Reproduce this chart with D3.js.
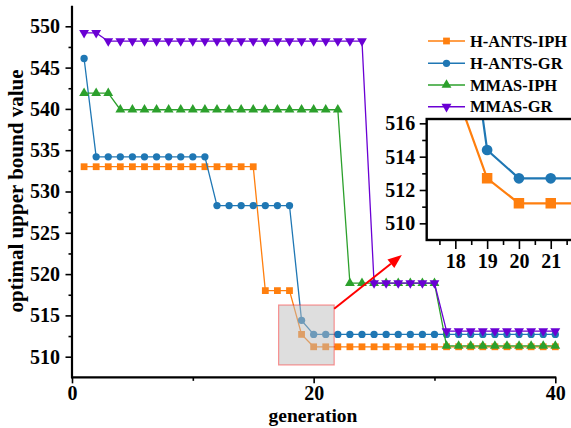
<!DOCTYPE html>
<html><head><meta charset="utf-8">
<script src="https://cdn.jsdelivr.net/npm/d3@7"></script>
<style>
body{margin:0;background:#fff}
svg{display:block}
text{font-family:"Liberation Serif","Times New Roman",serif;font-weight:bold;fill:#000}
</style>
</head><body><svg id="c" width="571" height="428"></svg>
<script>
// ---- data ----
const generations = [1,2,3,4,5,6,7,8,9,10,11,12,13,14,15,16,17,18,19,20,21,22,23,24,25,26,27,28,29,30,31,32,33,34,35,36,37,38,39,40];
const hAntsIph = [533,533,533,533,533,533,533,533,533,533,533,533,533,533,533,518,518,518,512.7,511.2,511.2,511.2,511.2,511.2,511.2,511.2,511.2,511.2,511.2,511.2,511.2,511.2,511.2,511.2,511.2,511.2,511.2,511.2,511.2,511.2];
const hAntsGr  = [546.1,534.2,534.2,534.2,534.2,534.2,534.2,534.2,534.2,534.2,534.2,528.3,528.3,528.3,528.3,528.3,528.3,528.3,514.4,512.7,512.7,512.7,512.7,512.7,512.7,512.7,512.7,512.7,512.7,512.7,512.7,512.7,512.7,512.7,512.7,512.7,512.7,512.7,512.7,512.7];
const mmasIph  = [541.9,541.9,541.9,539.9,539.9,539.9,539.9,539.9,539.9,539.9,539.9,539.9,539.9,539.9,539.9,539.9,539.9,539.9,539.9,539.9,539.9,539.9,518.9,518.9,518.9,518.9,518.9,518.9,518.9,518.9,511.3,511.3,511.3,511.3,511.3,511.3,511.3,511.3,511.3,511.3];
const mmasGr   = [549.2,549.2,548.2,548.2,548.2,548.2,548.2,548.2,548.2,548.2,548.2,548.2,548.2,548.2,548.2,548.2,548.2,548.2,548.2,548.2,548.2,548.2,548.2,548.2,518.9,518.9,518.9,518.9,518.9,518.9,513.1,513.1,513.1,513.1,513.1,513.1,513.1,513.1,513.1,513.1];
const seriesNames = ["H-ANTS-IPH","H-ANTS-GR","MMAS-IPH","MMAS-GR"];
const xTicks = [0,20,40];
const xMinorTicks = [10,30];
const yTicks = [510,515,520,525,530,535,540,545,550];
const yMinorTicks = [512.5,517.5,522.5,527.5,532.5,537.5,542.5,547.5];
const zoomX = [17.1,21.7];
const zoomY = [509,516.26];
const arrowFrom = [21.7,515.8];
const arrowTo = [27.3,522.3];
const insetXTicks = [18,19,20,21];
const insetXMinor = [17.5,18.5,19.5,20.5,21.5];
const insetYTicks = [510,512,514,516];
const insetYMinor = [511,513,515];

// ---- styles ----
const colors = ["#ff7f0e","#1f77b4","#2ca02c","#6a00d4"];
const symbols = [d3.symbolSquare,d3.symbolCircle,d3.symbolTriangle,d3.symbolTriangle];
const rotations = [0,0,0,180];
const seriesValues = [hAntsIph,hAntsGr,mmasIph,mmasGr];
const series = seriesNames.map((n,i)=>({name:n,color:colors[i],symbol:symbols[i],rot:rotations[i],
  values:generations.map((g,j)=>({x:g,y:seriesValues[i][j]}))}));

const svg = d3.select("#c");
const x = d3.scaleLinear().domain([0,40]).range([72,555.3]);
const y = d3.scaleLinear().domain([507.5,552.5]).range([377.35,5.65]);

function drawSeries(g, xs, ys, lw, sizes){
  series.forEach((s,i)=>{
    g.append("path").datum(s.values)
      .attr("fill","none").attr("stroke",s.color).attr("stroke-width",lw)
      .attr("d",d3.line().x(d=>xs(d.x)).y(d=>ys(d.y)));
    g.selectAll(null).data(s.values).enter().append("path")
      .attr("d",d3.symbol().type(s.symbol).size(sizes[i]))
      .attr("fill",s.color)
      .attr("transform",d=>`translate(${xs(d.x)},${ys(d.y)}) rotate(${s.rot})`);
  });
}

// main series
const gMain = svg.append("g");
drawSeries(gMain, x, y, 1.3, [46,42,42,42]);

// axes
function styleAxis(g){
  g.selectAll(".tick line").attr("stroke","#000").attr("stroke-width",1.6);
  g.select(".domain").remove();
}
const gy = svg.append("g").attr("transform","translate(72,0)")
  .call(d3.axisLeft(y).tickValues(yTicks).tickSize(6.5).tickSizeOuter(0).tickPadding(5.5));
styleAxis(gy);
gy.selectAll("text").style("font-size","20px").attr("fill","#000");
const gym = svg.append("g").attr("transform","translate(72,0)")
  .call(d3.axisLeft(y).tickValues(yMinorTicks).tickSize(3.5).tickFormat(""));
styleAxis(gym);

const gx = svg.append("g").attr("transform",`translate(0,${y(507.5)})`)
  .call(d3.axisBottom(x).tickValues(xTicks).tickSize(6).tickSizeOuter(0).tickPadding(2.5));
styleAxis(gx);
gx.selectAll("text").style("font-size","20px").attr("fill","#000");
const gxm = svg.append("g").attr("transform",`translate(0,${y(507.5)})`)
  .call(d3.axisBottom(x).tickValues(xMinorTicks).tickSize(3.5).tickFormat(""));
styleAxis(gxm);

svg.append("line").attr("x1",x(0)).attr("x2",x(0)).attr("y1",y(552.5)).attr("y2",y(507.5)+1)
  .attr("stroke","#000").attr("stroke-width",2.2);
svg.append("line").attr("x1",x(0)-1).attr("x2",x(40)+1).attr("y1",y(507.5)).attr("y2",y(507.5))
  .attr("stroke","#000").attr("stroke-width",2.2);

svg.append("text").attr("x",313).attr("y",422).attr("text-anchor","middle")
  .style("font-size","19.5px").text("generation");
svg.append("text").attr("transform","translate(22.7,191) rotate(-90)").attr("text-anchor","middle")
  .style("font-size","21px").text("optimal upper bound value");

// zoom rectangle
svg.append("rect").attr("x",x(zoomX[0])).attr("y",y(zoomY[1]))
  .attr("width",x(zoomX[1])-x(zoomX[0])).attr("height",y(zoomY[0])-y(zoomY[1]))
  .attr("fill","#bdbdbd").attr("fill-opacity",0.5)
  .attr("stroke","#ff0000").attr("stroke-opacity",0.4).attr("stroke-width",1.2);

// arrow
(function(){
  const x1=x(arrowFrom[0]), y1=y(arrowFrom[1]), x2=x(arrowTo[0]), y2=y(arrowTo[1]);
  const ang=Math.atan2(y2-y1,x2-x1), L=14, W=5.5;
  const bx=x2-L*Math.cos(ang), by=y2-L*Math.sin(ang);
  svg.append("line").attr("x1",x1).attr("y1",y1).attr("x2",bx).attr("y2",by)
    .attr("stroke","#ff0000").attr("stroke-width",2);
  const px=-Math.sin(ang), py=Math.cos(ang);
  svg.append("path").attr("d",`M${x2},${y2}L${bx+W*px},${by+W*py}L${bx-W*px},${by-W*py}Z`).attr("fill","#ff0000");
})();

// legend
const lg = svg.append("g");
const legendRows = [41,63.3,85,106.7];
series.forEach((s,i)=>{
  const yy = legendRows[i];
  lg.append("line").attr("x1",428).attr("x2",465).attr("y1",yy).attr("y2",yy)
    .attr("stroke",s.color).attr("stroke-width",1.5);
  lg.append("path").attr("d",d3.symbol().type(s.symbol).size(i==0?46:42)())
    .attr("fill",s.color).attr("transform",`translate(446.5,${yy}) rotate(${s.rot})`);
  lg.append("text").attr("x",470).attr("y",yy).attr("dy","0.35em")
    .style("font-size","16.5px").text(s.name);
});

// inset
const ix = d3.scaleLinear().domain(zoomX).range([426.7,573]);
const iy = d3.scaleLinear().domain(zoomY).range([240,119]);
const gi = svg.append("g");
gi.append("rect").attr("x",426.7).attr("y",119).attr("width",573-426.7).attr("height",121).attr("fill","#fff");
svg.append("clipPath").attr("id","ic").append("rect")
  .attr("x",426.7).attr("y",119).attr("width",573-426.7).attr("height",121);
const gis = gi.append("g").attr("clip-path","url(#ic)");
drawSeries(gis, ix, iy, 2.2, [110,90,110,110]);

const iyAx = gi.append("g").attr("transform","translate(426.7,0)")
  .call(d3.axisLeft(iy).tickValues(insetYTicks).tickFormat(d3.format("d")).tickSize(7).tickSizeOuter(0).tickPadding(4.5));
styleAxis(iyAx);
iyAx.selectAll("text").style("font-size","20px").attr("fill","#000");
const iyAxm = gi.append("g").attr("transform","translate(426.7,0)")
  .call(d3.axisLeft(iy).tickValues(insetYMinor).tickSize(4.5).tickFormat(""));
styleAxis(iyAxm);
const ixAx = gi.append("g").attr("transform","translate(0,240)")
  .call(d3.axisBottom(ix).tickValues(insetXTicks).tickFormat(d3.format("d")).tickSize(9).tickSizeOuter(0).tickPadding(4.8));
styleAxis(ixAx);
ixAx.selectAll("text").style("font-size","20px").attr("fill","#000");
const ixAxm = gi.append("g").attr("transform","translate(0,240)")
  .call(d3.axisBottom(ix).tickValues(insetXMinor).tickSize(5).tickFormat(""));
styleAxis(ixAxm);
gi.append("rect").attr("x",426.7).attr("y",119).attr("width",573-426.7).attr("height",121)
  .attr("fill","none").attr("stroke","#000").attr("stroke-width",2.4);
</script>
</body></html>
